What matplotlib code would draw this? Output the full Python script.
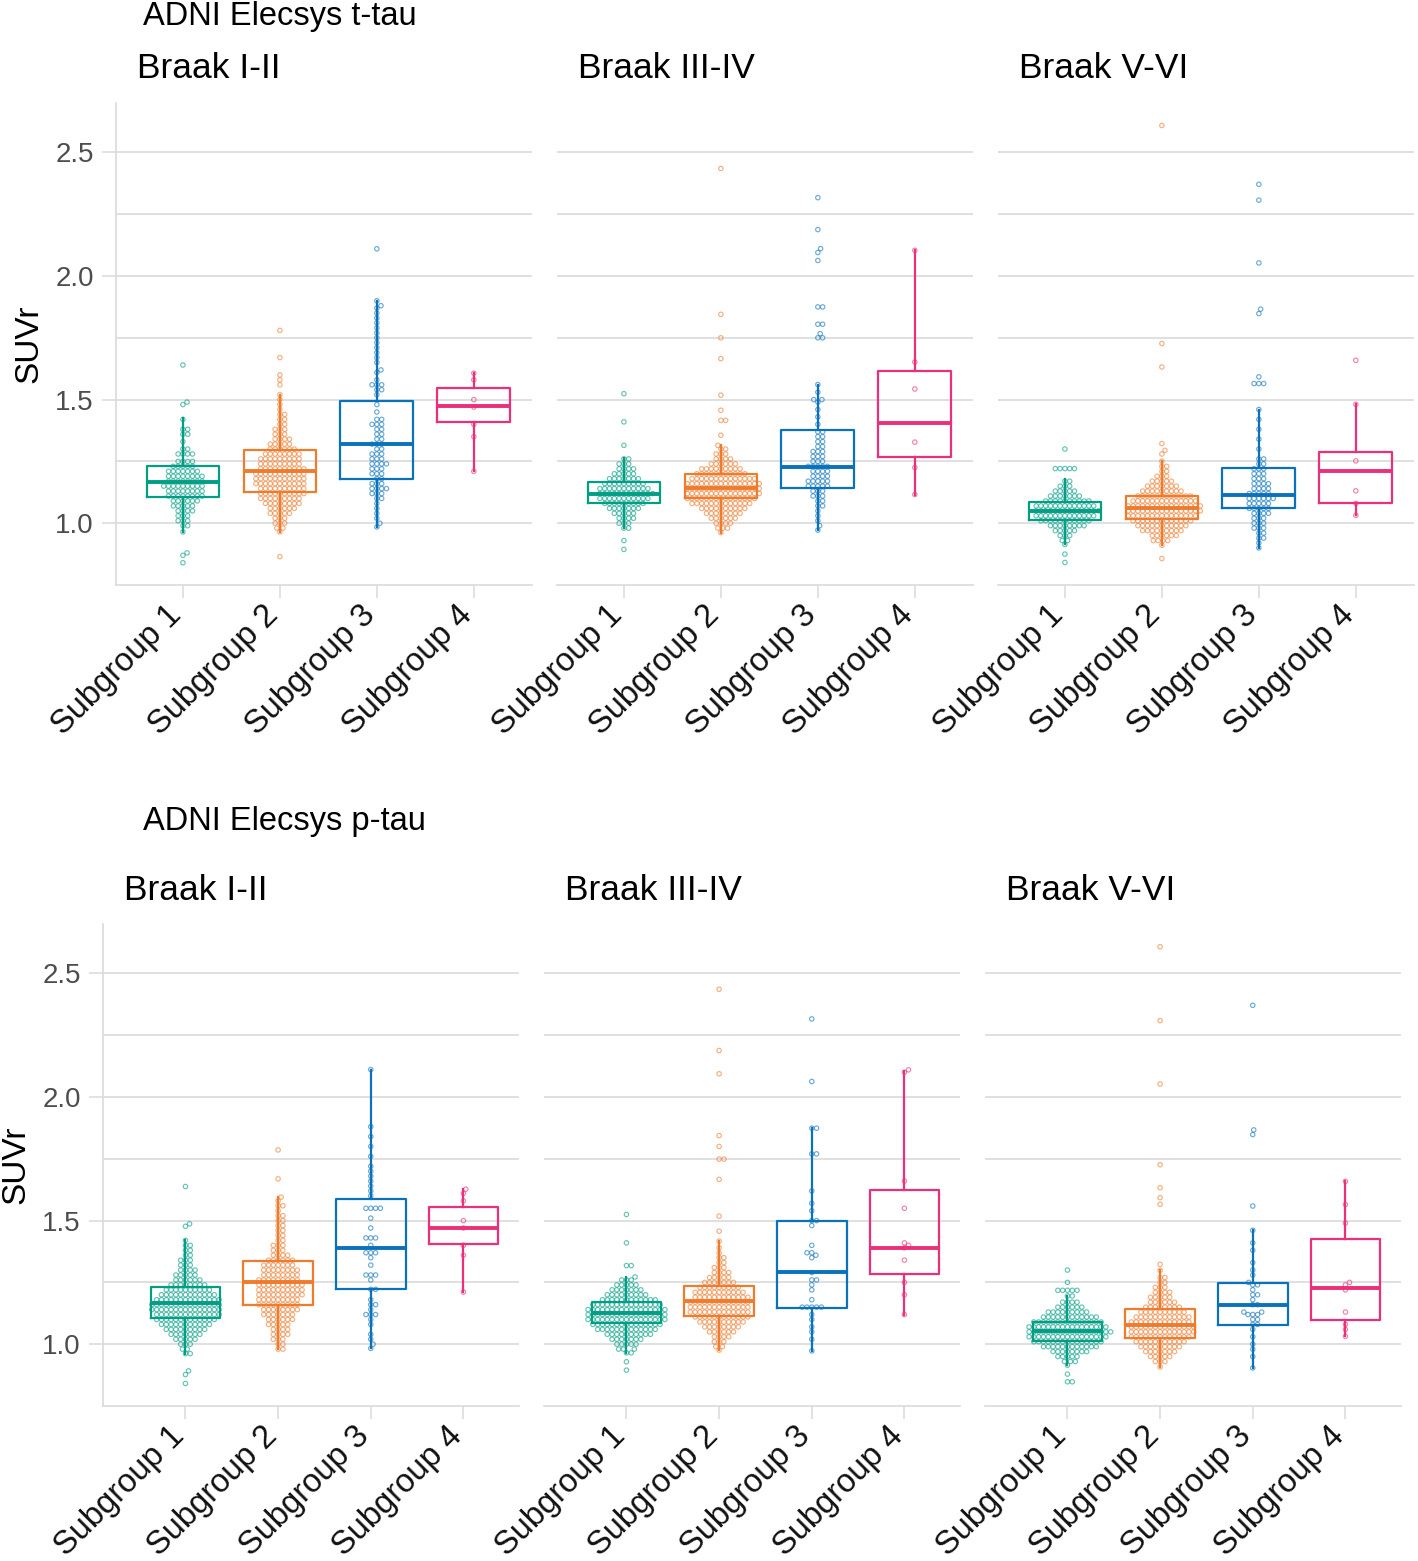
import numpy as np
import matplotlib
matplotlib.use('Agg')
import matplotlib.pyplot as plt
import matplotlib.transforms as mtransforms

plt.rcParams['font.family'] = ['Liberation Sans', 'DejaVu Sans']

groups = ['Subgroup 1', 'Subgroup 2', 'Subgroup 3', 'Subgroup 4']
colors = ['#009e84', '#ef7b2d', '#0a72bb', '#eb2f7a']
panel_titles = ['Braak I-II', 'Braak III-IV', 'Braak V-VI']
row_titles = ['ADNI Elecsys t-tau', 'ADNI Elecsys p-tau']

# box stats per subgroup: [whisker low, q1, median, q3, whisker high]
tt12_box = [[0.964, 1.105, 1.166, 1.230, 1.425], [0.964, 1.125, 1.210, 1.295, 1.520],
            [0.985, 1.178, 1.320, 1.493, 1.900], [1.210, 1.408, 1.473, 1.546, 1.607]]
tt34_box = [[0.979, 1.082, 1.120, 1.167, 1.262], [0.962, 1.100, 1.144, 1.198, 1.315],
            [0.972, 1.144, 1.228, 1.376, 1.561], [1.116, 1.268, 1.406, 1.615, 2.104]]
tt56_box = [[0.914, 1.012, 1.050, 1.084, 1.178], [0.911, 1.019, 1.063, 1.112, 1.251],
            [0.900, 1.063, 1.116, 1.225, 1.460], [1.032, 1.082, 1.211, 1.288, 1.481]]
pt12_box = [[0.962, 1.106, 1.167, 1.232, 1.420], [0.980, 1.158, 1.252, 1.337, 1.595],
            [0.983, 1.222, 1.389, 1.586, 2.111], [1.211, 1.407, 1.470, 1.557, 1.627]]
pt34_box = [[0.965, 1.084, 1.127, 1.171, 1.272], [0.976, 1.113, 1.175, 1.236, 1.417],
            [0.973, 1.148, 1.292, 1.498, 1.876], [1.120, 1.286, 1.389, 1.625, 2.107]]
pt56_box = [[0.915, 1.013, 1.054, 1.088, 1.195], [0.908, 1.026, 1.077, 1.144, 1.299],
            [0.904, 1.077, 1.160, 1.248, 1.461], [1.032, 1.097, 1.228, 1.424, 1.659]]

# individual SUVr values (value levels and how many points sit at each)
tt12_s1_v = [0.84, 0.87, 0.88, 0.965, 0.99, 1.01, 1.03, 1.05, 1.07, 1.09, 1.11, 1.13, 1.15, 1.17,
             1.19, 1.21, 1.23, 1.25, 1.28, 1.30, 1.33, 1.36, 1.38, 1.42, 1.48, 1.49, 1.64]
tt12_s1_n = [1, 1, 1, 1, 2, 3, 3, 4, 5, 6, 8, 8, 9, 8, 8, 7, 5, 4, 4, 2, 1, 2, 2, 1, 1, 1, 1]
tt12_s2_v = [0.865, 0.965, 0.98, 1.00, 1.02, 1.04, 1.06, 1.08, 1.10, 1.12, 1.14, 1.16, 1.18, 1.20,
             1.22, 1.24, 1.26, 1.28, 1.30, 1.32, 1.34, 1.36, 1.38, 1.40, 1.42, 1.44, 1.46, 1.48,
             1.50, 1.52, 1.56, 1.58, 1.60, 1.67, 1.78]
tt12_s2_n = [1, 1, 2, 3, 3, 5, 6, 8, 9, 10, 10, 11, 11, 11, 10, 9, 9, 8, 6, 5, 4, 3, 3, 2, 2, 2,
             1, 1, 1, 1, 1, 1, 1, 1, 1]
tt12_s3_v = [0.985, 1.00, 1.02, 1.04, 1.06, 1.08, 1.10, 1.12, 1.14, 1.16, 1.18, 1.20, 1.22, 1.24,
             1.26, 1.28, 1.30, 1.32, 1.34, 1.36, 1.38, 1.40, 1.42, 1.45, 1.48, 1.52, 1.54, 1.56,
             1.58, 1.61, 1.62, 1.65, 1.67, 1.69, 1.71, 1.73, 1.75, 1.77, 1.79, 1.81, 1.83, 1.85,
             1.87, 1.88, 1.90, 2.11]
tt12_s3_n = [1, 1, 1, 1, 1, 1, 2, 3, 4, 3, 2, 3, 3, 4, 3, 3, 2, 3, 2, 2, 2, 3, 2, 1, 1, 1, 2, 3,
             1, 1, 1, 1, 1, 1, 1, 1, 1, 1, 1, 1, 1, 1, 1, 1, 1, 1]
tt12_s4_v = [1.21, 1.35, 1.40, 1.47, 1.50, 1.58, 1.607]

tt34_s1_v = [0.894, 0.93, 0.98, 1.00, 1.02, 1.04, 1.06, 1.08, 1.10, 1.12, 1.14, 1.16, 1.18, 1.20,
             1.22, 1.24, 1.26, 1.315, 1.41, 1.524]
tt34_s1_n = [1, 1, 2, 3, 4, 5, 7, 9, 11, 12, 11, 9, 7, 5, 4, 3, 2, 1, 1, 1]
tt34_s2_v = [0.962, 0.98, 1.00, 1.02, 1.04, 1.06, 1.08, 1.10, 1.12, 1.14, 1.16, 1.18, 1.20, 1.22,
             1.24, 1.26, 1.28, 1.30, 1.315, 1.356, 1.416, 1.457, 1.518, 1.666, 1.75, 1.845, 2.435]
tt34_s2_n = [1, 3, 4, 6, 8, 10, 13, 15, 16, 16, 16, 14, 11, 9, 6, 4, 3, 2, 1, 1, 2, 1, 1, 1, 1, 1, 1]
tt34_s3_v = [0.972, 0.99, 1.01, 1.03, 1.05, 1.07, 1.09, 1.11, 1.13, 1.15, 1.17, 1.19, 1.21, 1.23,
             1.25, 1.27, 1.29, 1.31, 1.33, 1.35, 1.37, 1.40, 1.43, 1.46, 1.49, 1.50, 1.53, 1.561,
             1.75, 1.767, 1.805, 1.875, 2.063, 2.095, 2.111, 2.188, 2.317]
tt34_s3_n = [1, 1, 1, 1, 1, 2, 2, 3, 3, 5, 5, 4, 4, 5, 3, 3, 3, 2, 2, 2, 2, 1, 1, 1, 1, 2, 1, 1,
             2, 1, 2, 2, 1, 1, 1, 1, 1]
tt34_s4_v = [1.116, 1.225, 1.328, 1.543, 1.652, 2.104]

tt56_s1_v = [0.841, 0.875, 0.914, 0.93, 0.95, 0.97, 0.99, 1.01, 1.03, 1.05, 1.07, 1.09, 1.11, 1.13,
             1.15, 1.17, 1.221, 1.30]
tt56_s1_n = [1, 1, 1, 2, 3, 5, 8, 11, 13, 14, 13, 10, 7, 5, 3, 2, 5, 1]
tt56_s2_v = [0.857, 0.911, 0.93, 0.95, 0.97, 0.99, 1.01, 1.03, 1.05, 1.07, 1.09, 1.11, 1.13, 1.15,
             1.17, 1.19, 1.21, 1.23, 1.251, 1.28, 1.295, 1.322, 1.632, 1.727, 2.609]
tt56_s2_n = [1, 1, 4, 6, 9, 11, 13, 15, 16, 16, 14, 12, 9, 7, 5, 3, 2, 2, 1, 1, 1, 1, 1, 1, 1]
tt56_s3_v = [0.90, 0.92, 0.94, 0.96, 0.98, 1.00, 1.02, 1.04, 1.06, 1.08, 1.10, 1.12, 1.14, 1.16,
             1.18, 1.20, 1.22, 1.24, 1.26, 1.30, 1.34, 1.38, 1.42, 1.46, 1.565, 1.592, 1.848,
             1.866, 2.053, 2.307, 2.371]
tt56_s3_n = [1, 1, 2, 2, 3, 3, 3, 4, 5, 5, 6, 5, 4, 4, 3, 3, 3, 2, 2, 1, 1, 1, 1, 1, 3, 1, 1, 1,
             1, 1, 1]
tt56_s4_v = [1.032, 1.08, 1.131, 1.252, 1.481, 1.659]

pt12_s1_v = [0.841, 0.877, 0.892, 0.962, 0.98, 1.00, 1.02, 1.04, 1.06, 1.08, 1.10, 1.12, 1.14,
             1.16, 1.18, 1.20, 1.22, 1.24, 1.26, 1.28, 1.30, 1.32, 1.34, 1.36, 1.38, 1.40, 1.42,
             1.477, 1.487, 1.638]
pt12_s1_n = [1, 1, 1, 2, 2, 3, 5, 7, 9, 11, 13, 14, 15, 15, 14, 12, 10, 8, 6, 5, 4, 3, 3, 2, 2,
             2, 1, 1, 1, 1]
pt12_s2_v = [0.98, 1.00, 1.02, 1.04, 1.06, 1.08, 1.10, 1.12, 1.14, 1.16, 1.18, 1.20, 1.22, 1.24,
             1.26, 1.28, 1.30, 1.32, 1.34, 1.36, 1.38, 1.40, 1.42, 1.44, 1.46, 1.48, 1.50, 1.52,
             1.54, 1.56, 1.58, 1.595, 1.669, 1.786]
pt12_s2_n = [2, 2, 3, 4, 4, 5, 6, 7, 8, 9, 9, 10, 10, 10, 9, 8, 8, 7, 6, 4, 3, 3, 2, 2, 2, 2, 2,
             2, 1, 2, 1, 1, 1, 1]
pt12_s3_v = [0.983, 1.00, 1.02, 1.04, 1.08, 1.10, 1.12, 1.14, 1.16, 1.18, 1.222, 1.26, 1.28, 1.32,
             1.35, 1.37, 1.40, 1.43, 1.47, 1.51, 1.55, 1.60, 1.62, 1.64, 1.66, 1.68, 1.70, 1.72,
             1.76, 1.80, 1.84, 1.88, 2.111]
pt12_s3_n = [1, 1, 1, 1, 1, 1, 3, 1, 2, 1, 2, 1, 3, 1, 1, 3, 1, 3, 1, 1, 4, 1, 1, 1, 1, 1, 1, 1,
             1, 1, 1, 1, 1]
pt12_s4_v = [1.211, 1.36, 1.40, 1.47, 1.50, 1.58, 1.61, 1.627]

pt34_s1_v = [0.895, 0.929, 0.965, 0.98, 1.00, 1.02, 1.04, 1.06, 1.08, 1.10, 1.12, 1.14, 1.16,
             1.18, 1.20, 1.22, 1.24, 1.26, 1.272, 1.318, 1.41, 1.525]
pt34_s1_n = [1, 1, 2, 3, 5, 7, 10, 13, 15, 17, 17, 17, 15, 12, 9, 7, 5, 3, 1, 2, 1, 1]
pt34_s2_v = [0.976, 0.99, 1.01, 1.03, 1.05, 1.07, 1.09, 1.11, 1.13, 1.15, 1.17, 1.19, 1.21, 1.23,
             1.25, 1.27, 1.29, 1.31, 1.33, 1.35, 1.37, 1.39, 1.417, 1.457, 1.518, 1.667, 1.749,
             1.80, 1.844, 2.094, 2.188, 2.436]
pt34_s2_n = [1, 2, 3, 4, 6, 8, 10, 12, 13, 13, 13, 12, 11, 9, 7, 5, 4, 3, 2, 2, 1, 1, 1, 1, 1, 1,
             2, 1, 1, 1, 1, 1]
pt34_s3_v = [0.973, 1.02, 1.05, 1.07, 1.10, 1.12, 1.15, 1.18, 1.22, 1.24, 1.26, 1.29, 1.35, 1.36,
             1.37, 1.40, 1.48, 1.50, 1.54, 1.57, 1.62, 1.77, 1.874, 2.063, 2.316]
pt34_s3_n = [1, 1, 1, 1, 1, 1, 5, 1, 1, 1, 2, 1, 1, 1, 2, 1, 1, 2, 1, 1, 1, 2, 2, 1, 1]
pt34_s4_v = [1.12, 1.20, 1.25, 1.34, 1.39, 1.40, 1.41, 1.55, 1.66, 2.10, 2.11]

pt56_s1_v = [0.848, 0.879, 0.915, 0.93, 0.95, 0.97, 0.99, 1.01, 1.03, 1.05, 1.07, 1.09, 1.11,
             1.13, 1.15, 1.17, 1.195, 1.218, 1.25, 1.30]
pt56_s1_n = [2, 1, 1, 3, 5, 8, 12, 15, 17, 18, 17, 15, 12, 9, 6, 4, 2, 5, 1, 1]
pt56_s2_v = [0.908, 0.93, 0.95, 0.97, 0.99, 1.01, 1.03, 1.05, 1.07, 1.09, 1.11, 1.13, 1.15, 1.17,
             1.19, 1.21, 1.23, 1.25, 1.27, 1.299, 1.323, 1.566, 1.593, 1.633, 1.726, 2.053, 2.309,
             2.608]
pt56_s2_n = [1, 3, 5, 7, 9, 11, 13, 14, 14, 13, 12, 10, 8, 6, 5, 4, 3, 2, 2, 1, 1, 1, 1, 1, 1, 1,
             1, 1]
pt56_s3_v = [0.904, 0.95, 0.98, 1.00, 1.03, 1.06, 1.08, 1.10, 1.12, 1.13, 1.16, 1.18, 1.20, 1.22,
             1.24, 1.25, 1.28, 1.30, 1.33, 1.38, 1.41, 1.461, 1.559, 1.848, 1.867, 2.371]
pt56_s3_n = [1, 1, 1, 1, 1, 1, 2, 2, 3, 2, 2, 1, 2, 1, 2, 1, 1, 1, 1, 1, 1, 1, 1, 1, 1, 1]
pt56_s4_v = [1.032, 1.06, 1.08, 1.13, 1.22, 1.24, 1.25, 1.49, 1.565, 1.659]


def expand(v, n=None):
    if n is None:
        return np.array(v, dtype=float)
    return np.repeat(np.array(v, dtype=float), n)


rows = [
    [(tt12_box, [expand(tt12_s1_v, tt12_s1_n), expand(tt12_s2_v, tt12_s2_n),
                 expand(tt12_s3_v, tt12_s3_n), expand(tt12_s4_v)]),
     (tt34_box, [expand(tt34_s1_v, tt34_s1_n), expand(tt34_s2_v, tt34_s2_n),
                 expand(tt34_s3_v, tt34_s3_n), expand(tt34_s4_v)]),
     (tt56_box, [expand(tt56_s1_v, tt56_s1_n), expand(tt56_s2_v, tt56_s2_n),
                 expand(tt56_s3_v, tt56_s3_n), expand(tt56_s4_v)])],
    [(pt12_box, [expand(pt12_s1_v, pt12_s1_n), expand(pt12_s2_v, pt12_s2_n),
                 expand(pt12_s3_v, pt12_s3_n), expand(pt12_s4_v)]),
     (pt34_box, [expand(pt34_s1_v, pt34_s1_n), expand(pt34_s2_v, pt34_s2_n),
                 expand(pt34_s3_v, pt34_s3_n), expand(pt34_s4_v)]),
     (pt56_box, [expand(pt56_s1_v, pt56_s1_n), expand(pt56_s2_v, pt56_s2_n),
                 expand(pt56_s3_v, pt56_s3_n), expand(pt56_s4_v)])],
]


def swarm(vals, d, sx, sy):
    """simple beeswarm: returns x offsets (data units) for sorted values"""
    ys = np.sort(vals)
    placed = []
    xs = np.zeros(len(ys))
    for i, y in enumerate(ys):
        yp = y * sy
        near = [(px, py) for px, py in placed if abs(py - yp) < d]
        cands = [0.0]
        for px, py in near:
            dx = np.sqrt(d * d - (py - yp) ** 2)
            cands += [px + dx, px - dx]
        cands.sort(key=abs)
        for c in cands:
            if all((c - px) ** 2 + (yp - py) ** 2 >= d * d - 1e-6 for px, py in near):
                break
        placed.append((c, yp))
        xs[i] = c / sx
    return xs, ys


W, H = 1418, 1561
fig = plt.figure(figsize=(W / 100, H / 100), dpi=100)

row_lefts = [[116, 557, 998], [103, 544, 985]]
row_top = [103, 924]
row_bottom = [585, 1406]
row_xlim = [(0.31, 4.6), (0.11, 4.6)]
pw = 416
ylim = (0.75, 2.70)
grid_col = '#dadada'
label_shift = mtransforms.ScaledTranslation(5 / 100, 0, fig.dpi_scale_trans)

for r, row in enumerate(rows):
    y0, y1 = row_top[r], row_bottom[r]
    for p, (box, pts) in enumerate(row):
        left = row_lefts[r][p]
        ax = fig.add_axes([left / W, 1 - y1 / H, pw / W, (y1 - y0) / H])
        ax.set_xlim(*row_xlim[r])
        ax.set_ylim(*ylim)
        sx = pw / (row_xlim[r][1] - row_xlim[r][0])
        sy = (y1 - y0) / (ylim[1] - ylim[0])

        for g in range(4):
            xo, ys = swarm(pts[g], 4.8, sx, sy)
            ax.scatter(g + 1 + xo, ys, s=10, facecolors='none', edgecolors=colors[g],
                       linewidths=0.85, alpha=0.6, zorder=2)
            lo, q1, med, q3, hi = box[g]
            st = [{'whislo': lo, 'q1': q1, 'med': med, 'q3': q3, 'whishi': hi, 'fliers': []}]
            ax.bxp(st, positions=[g + 1], widths=0.75, showcaps=False, showfliers=False,
                   boxprops=dict(color=colors[g], linewidth=1.6),
                   whiskerprops=dict(color=colors[g], linewidth=1.6),
                   medianprops=dict(color=colors[g], linewidth=2.8, solid_capstyle='butt'),
                   manage_ticks=False, zorder=3)

        ax.set_yticks([1.0, 1.5, 2.0, 2.5])
        ax.set_yticks([1.25, 1.75, 2.25], minor=True)
        ax.grid(True, axis='y', which='both', color=grid_col, linewidth=1.2)
        ax.set_axisbelow(True)
        ax.set_xticks([1, 2, 3, 4])
        ax.set_xticklabels(groups, rotation=45, ha='right', va='baseline',
                           rotation_mode='anchor', fontsize=23.5, color='#111111')
        for lab in ax.get_xticklabels():
            lab.set_transform(lab.get_transform() + label_shift)
        ax.tick_params(axis='x', length=9, width=1.1, color=grid_col, pad=14)
        ax.tick_params(axis='y', which='minor', length=0)
        for s in ['top', 'right']:
            ax.spines[s].set_visible(False)
        ax.spines['bottom'].set_color(grid_col)
        ax.spines['bottom'].set_linewidth(1.2)
        if p == 0:
            ax.spines['left'].set_color(grid_col)
            ax.spines['left'].set_linewidth(1.2)
            ax.set_yticklabels(['1.0', '1.5', '2.0', '2.5'], fontsize=20, color='#4d4d4d')
            ax.tick_params(axis='y', which='major', length=10, width=1.1, color=grid_col, pad=6)
            ax.set_ylabel('SUVr', fontsize=24, color='black', labelpad=8)
        else:
            ax.spines['left'].set_visible(False)
            ax.tick_params(axis='y', which='major', length=0, labelleft=False)

        fig.text((left + 21) / W, 1 - (y0 - 34) / H, panel_titles[p], fontsize=25.5,
                 ha='left', va='center')

fig.text(143 / W, 1 - 17 / H, row_titles[0], fontsize=23.5, ha='left', va='center')
fig.text(143 / W, 1 - 822 / H, row_titles[1], fontsize=23.5, ha='left', va='center')

fig.savefig('out.png', dpi=100)
